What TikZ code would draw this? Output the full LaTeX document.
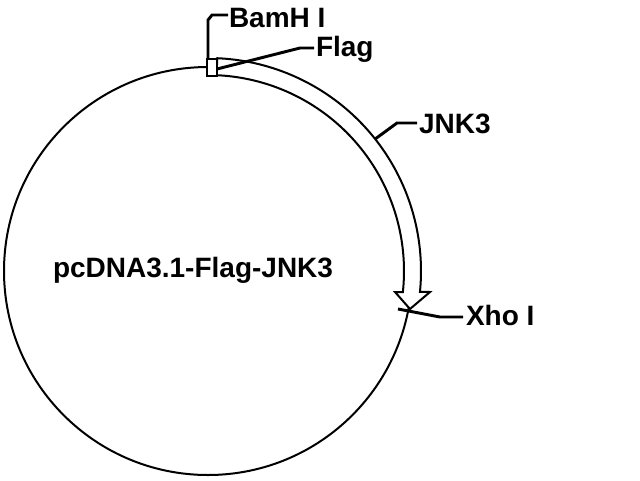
\documentclass[tikz,border=0pt]{standalone}
\usepackage{fontspec}
\setmainfont{Liberation Sans}
\usetikzlibrary{calc}
\begin{document}
\begin{tikzpicture}[x=0.75pt,y=-0.75pt,
  lbl/.style={font=\fontsize{21pt}{21pt}\selectfont\bfseries,anchor=base west,inner sep=0pt,outer sep=0pt},
  leader/.style={line width=2.2pt},
  thin/.style={line width=1.5pt}]
\useasboundingbox (0,0) rectangle (640,480);
\coordinate (C) at (208,271);
% plasmid circle
\draw[thin] (C) circle[radius=204];
% JNK3 band arrow
\draw[thin,fill=white,line join=miter]
  ($(C)+(-87.5:213)$) arc[start angle=-87.5,end angle=5.6,radius=213]
  -- (430,292) -- (410,309) -- (395,292) -- ($(C)+(6.15:196)$)
  arc[start angle=6.15,end angle=-87.5,radius=196] -- cycle;
% Flag box
\draw[thin,fill=white] (207,59) rectangle (217,76);
% labels
\node[lbl] (bam) at (229,27) {BamH I};
\node[lbl] (flag) at (316,56) {Flag};
\node[lbl] (jnk) at (419,133) {JNK3};
\node[lbl] (xho) at (466,325) {Xho I};
\node[lbl] (main) at (53,277) {pcDNA3.1-Flag-JNK3};
% leaders
\coordinate (bamS) at (208,59);
\coordinate (bamE) at (228,15);
\coordinate (flagS) at (217,69);
\coordinate (flagE) at (314,48);
\coordinate (jnkS) at ($(C)+(-38.3:213)$);
\coordinate (jnkE) at (417,123);
\coordinate (xhoS) at (398,309);
\coordinate (xhoE) at (463,317);
\draw[leader] (bamS) -- (208,20) -- (212,15) -- (bamE);
\draw[leader] (flagS) -- (300,48) -- (flagE);
\draw[leader] (jnkS) -- (397,123) -- (jnkE);
\draw[leader] (xhoS) -- (440,317) -- (xhoE);
\end{tikzpicture}
\end{document}
